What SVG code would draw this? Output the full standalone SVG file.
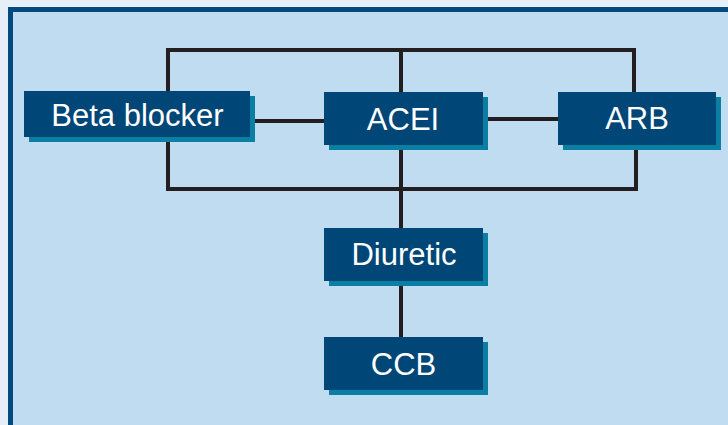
<svg xmlns="http://www.w3.org/2000/svg" width="728" height="425" viewBox="0 0 728 425">
<style>
.box{fill:#004677}
.shadow{fill:#0b7fa3}
.lbl{font-family:"Liberation Sans",Arial,sans-serif;font-size:31px;fill:#ffffff;text-anchor:middle}
.conn{stroke:#231f20;stroke-width:4;fill:none;stroke-linecap:square}
</style>
<rect x="0" y="0" width="728" height="425" fill="#e6eef7"/>
<rect x="8" y="7" width="730" height="430" fill="#004a80"/>
<rect x="13" y="12" width="725" height="425" fill="#c0dcf1"/>
<g id="connectors">
<polyline class="conn" points="168,91 168,50 634,50 634,92"/>
<line class="conn" x1="401" y1="50" x2="401" y2="92"/>
<polyline class="conn" points="168,137 168,189 636,189 636,145"/>
<line class="conn" x1="401" y1="145" x2="401" y2="228"/>
<line class="conn" x1="401" y1="281" x2="401" y2="337"/>
<line class="conn" x1="250" y1="121" x2="324" y2="121"/>
<line class="conn" x1="483" y1="119" x2="558" y2="119"/>
</g>
<g id="beta-blocker">
<rect class="shadow" x="29" y="96" width="226" height="46"/>
<rect class="box" x="24" y="91" width="226" height="46"/>
<text class="lbl" x="137.5" y="126">Beta blocker</text>
</g>
<g id="acei">
<rect class="shadow" x="329" y="97" width="159" height="53"/>
<rect class="box" x="324" y="92" width="159" height="53"/>
<text class="lbl" x="403" y="130">ACEI</text>
</g>
<g id="arb">
<rect class="shadow" x="563" y="97" width="158" height="53"/>
<rect class="box" x="558" y="92" width="158" height="53"/>
<text class="lbl" x="637" y="129">ARB</text>
</g>
<g id="diuretic">
<rect class="shadow" x="329" y="233" width="159" height="53"/>
<rect class="box" x="324" y="228" width="159" height="53"/>
<text class="lbl" x="404" y="265">Diuretic</text>
</g>
<g id="ccb">
<rect class="shadow" x="329" y="342" width="159" height="53"/>
<rect class="box" x="324" y="337" width="159" height="53"/>
<text class="lbl" x="403.5" y="375">CCB</text>
</g>
</svg>
